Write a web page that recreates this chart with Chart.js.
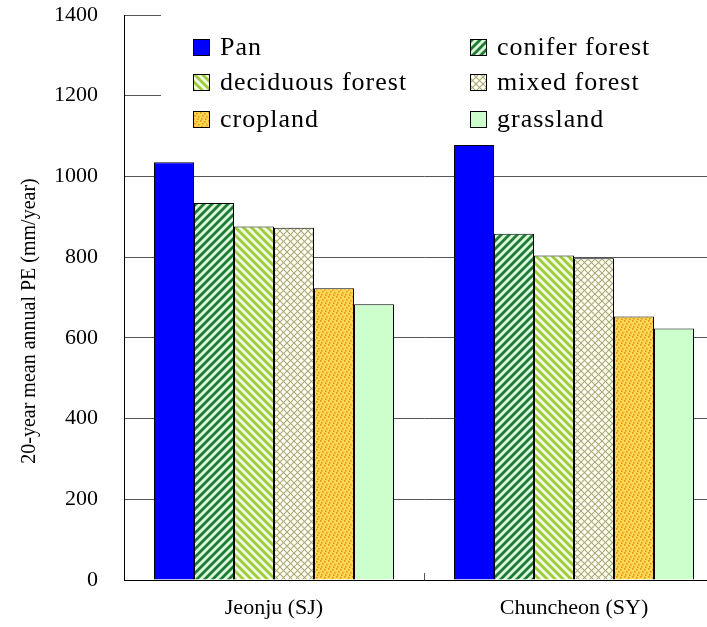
<!DOCTYPE html>
<html>
<head>
<meta charset="utf-8">
<script src="https://cdn.jsdelivr.net/npm/chart.js@4/dist/chart.umd.min.js"></script>
<style>
html,body{margin:0;padding:0;background:#fff;overflow:hidden;}
#wrap{width:707px;height:627px;overflow:hidden;position:relative;}
canvas{display:block;}
</style>
</head>
<body>
<div id="wrap"><canvas id="c" width="740" height="627"></canvas></div>
<script>
// ---- data ----
const categories = ['Jeonju (SJ)', 'Chuncheon (SY)'];
const seriesNames = ['Pan', 'conifer forest', 'deciduous forest', 'mixed forest', 'cropland', 'grassland'];
const pan       = [1035, 1078];
const conifer   = [934, 858];
const deciduous = [876, 804];
const mixed     = [873, 797];
const cropland  = [723, 653];
const grassland = [683, 623];
const yTicks = [0, 200, 400, 600, 800, 1000, 1200, 1400];
const yTitle = '20-year mean annual PE (mm/year)';

// ---- patterns ----
function tile(s, draw) {
  const c = document.createElement('canvas');
  c.width = s; c.height = s;
  const g = c.getContext('2d');
  draw(g, s);
  return document.createElement('canvas').getContext('2d').createPattern(c, 'repeat');
}
function stripes(bg, fg, s, w, dir) {
  return tile(s, (g, s) => {
    g.fillStyle = bg; g.fillRect(0, 0, s, s);
    g.strokeStyle = fg; g.lineWidth = w; g.lineCap = 'square';
    for (let k = -1; k <= 1; k++) {
      g.beginPath();
      if (dir === '/') { g.moveTo(k * s, s); g.lineTo(k * s + s, 0); }
      else { g.moveTo(k * s, 0); g.lineTo(k * s + s, s); }
      g.stroke();
    }
  });
}
const patConifer = stripes('#dcf6dc', '#1e7b34', 8, 2.8, '/');
const patDeciduous = stripes('#f4fbe4', '#9dcc3a', 8, 2.8, '\\');
const patMixed = tile(7, (g, s) => {
  g.fillStyle = '#fffff2'; g.fillRect(0, 0, s, s);
  g.strokeStyle = '#a9a97a'; g.lineWidth = 1.1;
  for (let k = -1; k <= 1; k++) {
    g.beginPath(); g.moveTo(k * s, s); g.lineTo(k * s + s, 0); g.stroke();
    g.beginPath(); g.moveTo(k * s, 0); g.lineTo(k * s + s, s); g.stroke();
  }
});
const patCrop = tile(8, (g, s) => {
  g.fillStyle = '#ffd94d'; g.fillRect(0, 0, s, s);
  g.fillStyle = '#e8902c';
  [[0,0],[4,1],[2,3],[6,4],[1,6],[5,6.5]].forEach(p => g.fillRect(p[0], p[1], 1.6, 1.6));
});
const fills = ['#0000ff', patConifer, patDeciduous, patMixed, patCrop, '#ccffcc'];
const values = [pan, conifer, deciduous, mixed, cropland, grassland];

const FONT = "'Liberation Serif', 'Times New Roman', serif";

// custom legend (2 columns) over a white box, plus the y-axis title
const legendPlugin = {
  id: 'gridLegend',
  afterDraw(chart) {
    const ctx = chart.ctx;
    ctx.save();
    // y title
    ctx.save();
    ctx.translate(30, 321);
    ctx.rotate(-Math.PI / 2);
    ctx.font = '20px ' + FONT;
    ctx.fillStyle = '#000';
    ctx.textAlign = 'center';
    ctx.textBaseline = 'middle';
    ctx.fillText(yTitle, 0, 0);
    ctx.restore();
    // legend
    ctx.fillStyle = '#fff';
    ctx.fillRect(161, 12, 560, 126);
    const cols = [193, 470];
    const rows = [47, 82, 119];
    ctx.font = '26px ' + FONT;
    ctx.textBaseline = 'middle';
    ctx.textAlign = 'left';
    chart.data.datasets.forEach((ds, i) => {
      const x = cols[i % 2], y = rows[Math.floor(i / 2)];
      ctx.fillStyle = ds.backgroundColor;
      ctx.fillRect(x, y - 8, 17, 17);
      ctx.strokeStyle = '#000'; ctx.lineWidth = 1;
      ctx.strokeRect(x + 0.5, y - 7.5, 16, 16);
      ctx.fillStyle = '#000';
      ctx.letterSpacing = '1px';
      ctx.fillText(ds.label, x + 27, y + 1);
      ctx.letterSpacing = '0px';
    });
    ctx.restore();
  }
};

new Chart(document.getElementById('c'), {
  type: 'bar',
  data: {
    labels: categories,
    datasets: seriesNames.map((n, i) => ({
      label: n,
      data: values[i],
      backgroundColor: fills[i],
      borderColor: '#000',
      borderWidth: 1,
      categoryPercentage: 0.8,
      barPercentage: 1.0
    }))
  },
  options: {
    responsive: false,
    animation: false,
    devicePixelRatio: 1,
    layout: { padding: { top: 15, right: 16, left: 0, bottom: 0 } },
    plugins: { legend: { display: false }, tooltip: { enabled: false } },
    scales: {
      x: {
        grid: { display: true, drawOnChartArea: false, drawTicks: true, tickLength: -7, color: '#555', offset: true },
        border: { display: true, color: '#000', width: 1 },
        ticks: { font: { family: FONT, size: 22 }, color: '#000', padding: 22, maxRotation: 0 },
        afterFit(s) { s.height = 47; }
      },
      y: {
        min: 0, max: 1400,
        afterBuildTicks(s) { s.ticks = yTicks.map(v => ({ value: v })); },
        grid: { color: '#555', drawTicks: true, tickLength: 26, tickColor: 'rgba(0,0,0,0)', lineWidth: 1 },
        border: { display: true, color: '#000', width: 1 },
        ticks: { font: { family: FONT, size: 22 }, color: '#000', padding: 0, callback: v => String(v) },
        title: { display: false },
        afterFit(s) { s.width = 124; }
      }
    }
  },
  plugins: [legendPlugin]
});
</script>
</body>
</html>
